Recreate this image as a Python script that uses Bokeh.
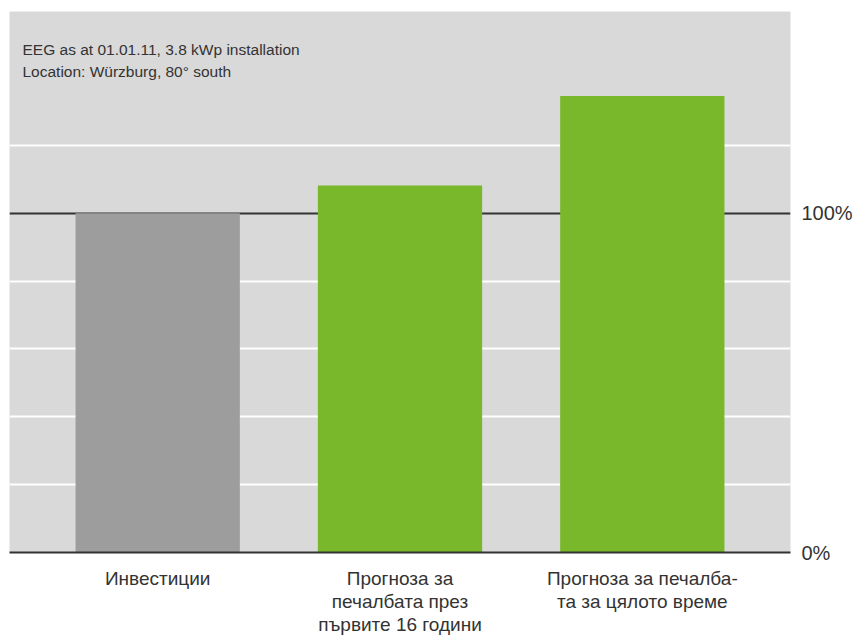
from bokeh.plotting import figure
from bokeh.models import FixedTicker, Range1d, Label, Grid
from bokeh.embed import file_html
from bokeh.resources import INLINE

# ---- data ----
categories = ["Инвестиции",
              "Прогноза за\nпечалбата през\nпървите 16 години",
              "Прогноза за печалба-\nта за цялото време"]
values = [100, 108.2, 134.6]
bar_colors = ["#9c9d9c", "#78b82a", "#78b82a"]
y_tick_values = [0, 100]
y_tick_labels = ["0%", "100%"]
grid_values = [20, 40, 60, 80, 120]
note_lines = ["EEG as at 01.01.11, 3.8 kWp installation",
              "Location: Würzburg, 80° south"]

FONT = "Liberation Sans"
TEXT = "#333333"

xs = list(range(len(categories)))
X0, X1 = -0.6116, 2.6116

p = figure(frame_width=781, frame_height=541,
           x_range=Range1d(X0, X1), y_range=Range1d(0, 159.5),
           y_axis_location="right",
           output_backend="svg", toolbar_location=None,
           min_border_left=9, min_border_top=11, min_border_right=2, min_border_bottom=0)
p.background_fill_color = "#d9d9d9"
p.border_fill_color = "white"
p.outline_line_color = None

p.vbar(x=xs, top=values, width=0.678, color=bar_colors, line_color=None)

# x axis
xa = p.xaxis[0]
xa.ticker = FixedTicker(ticks=xs)
xa.major_label_overrides = {i: c for i, c in zip(xs, categories)}
xa.axis_line_color = "#333333"
xa.axis_line_width = 2
xa.major_tick_line_color = None
xa.minor_tick_line_color = None
xa.major_label_standoff = 9
xa.major_label_text_font = FONT
xa.major_label_text_font_size = "19px"
xa.major_label_text_color = TEXT
xa.major_label_text_line_height = 1.1

# y axis (right)
ya = p.yaxis[0]
ya.ticker = FixedTicker(ticks=y_tick_values)
ya.major_label_overrides = {v: l for v, l in zip(y_tick_values, y_tick_labels)}
ya.axis_line_color = None
ya.major_tick_line_color = None
ya.minor_tick_line_color = None
ya.major_label_standoff = 5
ya.major_label_text_font = FONT
ya.major_label_text_font_size = "20px"
ya.major_label_text_color = TEXT

# grids
p.xgrid.grid_line_color = None
p.ygrid[0].ticker = FixedTicker(ticks=grid_values)
p.ygrid[0].grid_line_color = "white"
p.ygrid[0].grid_line_width = 2
black_grid = Grid(dimension=1, ticker=FixedTicker(ticks=[100]),
                  grid_line_color="#333333", grid_line_width=2)
p.add_layout(black_grid)

# note
for txt, yv in zip(note_lines, [148.4, 141.8]):
    p.add_layout(Label(x=-0.558, y=yv, text=txt, text_font=FONT,
                       text_font_size="15.5px", text_color=TEXT,
                       text_baseline="alphabetic"))

open("out.html", "w").write(file_html(p, INLINE))
